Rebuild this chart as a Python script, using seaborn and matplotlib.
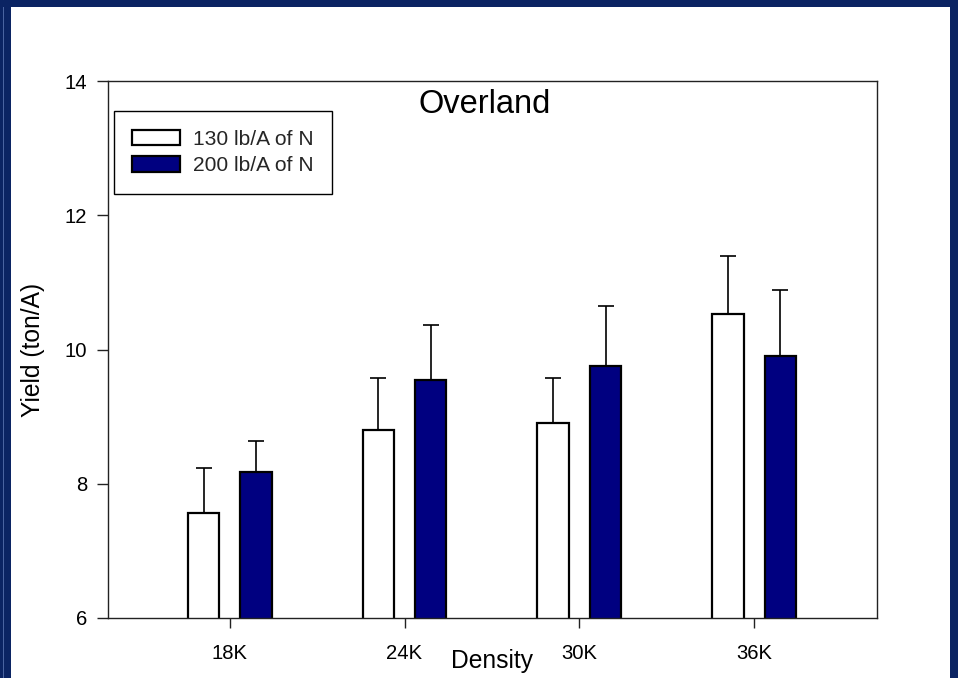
import numpy as np
import pandas as pd
import matplotlib
matplotlib.use("Agg")
import matplotlib.pyplot as plt
from matplotlib.patches import Rectangle
import seaborn as sns

# ---- data ----
densities = ["18K", "24K", "30K", "36K"]
series_names = ["130 lb/A of N", "200 lb/A of N"]
yield_130 = [7.57, 8.80, 8.91, 10.53]
yield_200 = [8.18, 9.55, 9.75, 9.90]
err_130 = [0.66, 0.78, 0.67, 0.87]
err_200 = [0.46, 0.82, 0.90, 0.99]
y_ticks = [6, 8, 10, 12, 14]

df = pd.DataFrame({
    "Density": densities * 2,
    "Yield": yield_130 + yield_200,
    "N": [series_names[0]] * 4 + [series_names[1]] * 4,
})
errs = {series_names[0]: err_130, series_names[1]: err_200}

sns.set_theme(style="ticks")
plt.rcParams["font.family"] = ["Liberation Sans", "DejaVu Sans"]

fig = plt.figure(figsize=(9.58, 6.78), dpi=100)
fig.patch.set_facecolor("white")
ax = fig.add_axes([0.1127, 0.0885, 0.8027, 0.792])

sns.barplot(data=df, x="Density", y="Yield", hue="N", order=densities,
            hue_order=series_names, palette=["white", "#000080"],
            saturation=1, width=0.6, gap=0.4, edgecolor="black",
            linewidth=1.6, errorbar=None, ax=ax, zorder=2)

# one-sided error bars from the bar containers
for cont, name in zip(ax.containers, series_names):
    xs = [p.get_x() + p.get_width() / 2 for p in cont.patches]
    ys = [p.get_height() for p in cont.patches]
    up = errs[name]
    ax.errorbar(xs, ys, yerr=[np.zeros(len(up)), up], fmt="none",
                ecolor="black", elinewidth=1.2, capsize=6, capthick=1.2,
                zorder=1)

ax.set_ylim(6, 14)
ax.set_yticks(y_ticks)
ax.set_yticklabels([str(v) for v in y_ticks])
ax.set_xlim(-0.697, 3.703)

for s in ax.spines.values():
    s.set_visible(True)
    s.set_color("#222222")
    s.set_linewidth(1.0)

ax.tick_params(axis="y", direction="out", length=8, width=1, pad=7,
               labelsize=14.6, colors="#222222", labelcolor="black")
ax.tick_params(axis="x", direction="out", length=7, width=1, pad=11.5,
               labelsize=14.6, colors="#222222", labelcolor="black")

ax.set_xlabel("Density", fontsize=17.7, color="black")
ax.set_ylabel("Yield (ton/A)", fontsize=17.7, color="black")
ax.xaxis.set_label_coords(0.5, -0.057)
ax.yaxis.set_label_coords(-0.082, 0.5)

ax.text(0.490, 0.940, "Overland", transform=ax.transAxes, ha="center",
        va="baseline", fontsize=23.5, color="black")

handles, labels = ax.get_legend_handles_labels()
leg = ax.legend(handles, labels, loc="upper left",
                bbox_to_anchor=(0.0074, 0.944), fontsize=15.1,
                handlelength=2.3, handleheight=0.76, handletextpad=0.62,
                labelspacing=0.36, borderpad=0.88, borderaxespad=0,
                frameon=True, fancybox=False, shadow=False, title=None)
leg.get_frame().set_edgecolor("black")
leg.get_frame().set_linewidth(1.0)
leg.get_frame().set_alpha(1)

# navy frame around the slide
navy = "#0b2463"
W, H = 958.0, 678.0
fig.patches.append(Rectangle((0, 1 - 7 / H), 1, 7 / H, transform=fig.transFigure,
                             facecolor=navy, edgecolor="none", zorder=0))
fig.patches.append(Rectangle((0, 0), 11 / W, 1, transform=fig.transFigure,
                             facecolor=navy, edgecolor="none", zorder=0))
fig.patches.append(Rectangle((950 / W, 0), 8 / W, 1, transform=fig.transFigure,
                             facecolor=navy, edgecolor="none", zorder=0))
fig.patches.append(Rectangle((3 / W, 0), 1 / W, 1 - 7 / H, transform=fig.transFigure,
                             facecolor="#4a64a0", edgecolor="none", zorder=1))

fig.savefig("out.png", dpi=100)
